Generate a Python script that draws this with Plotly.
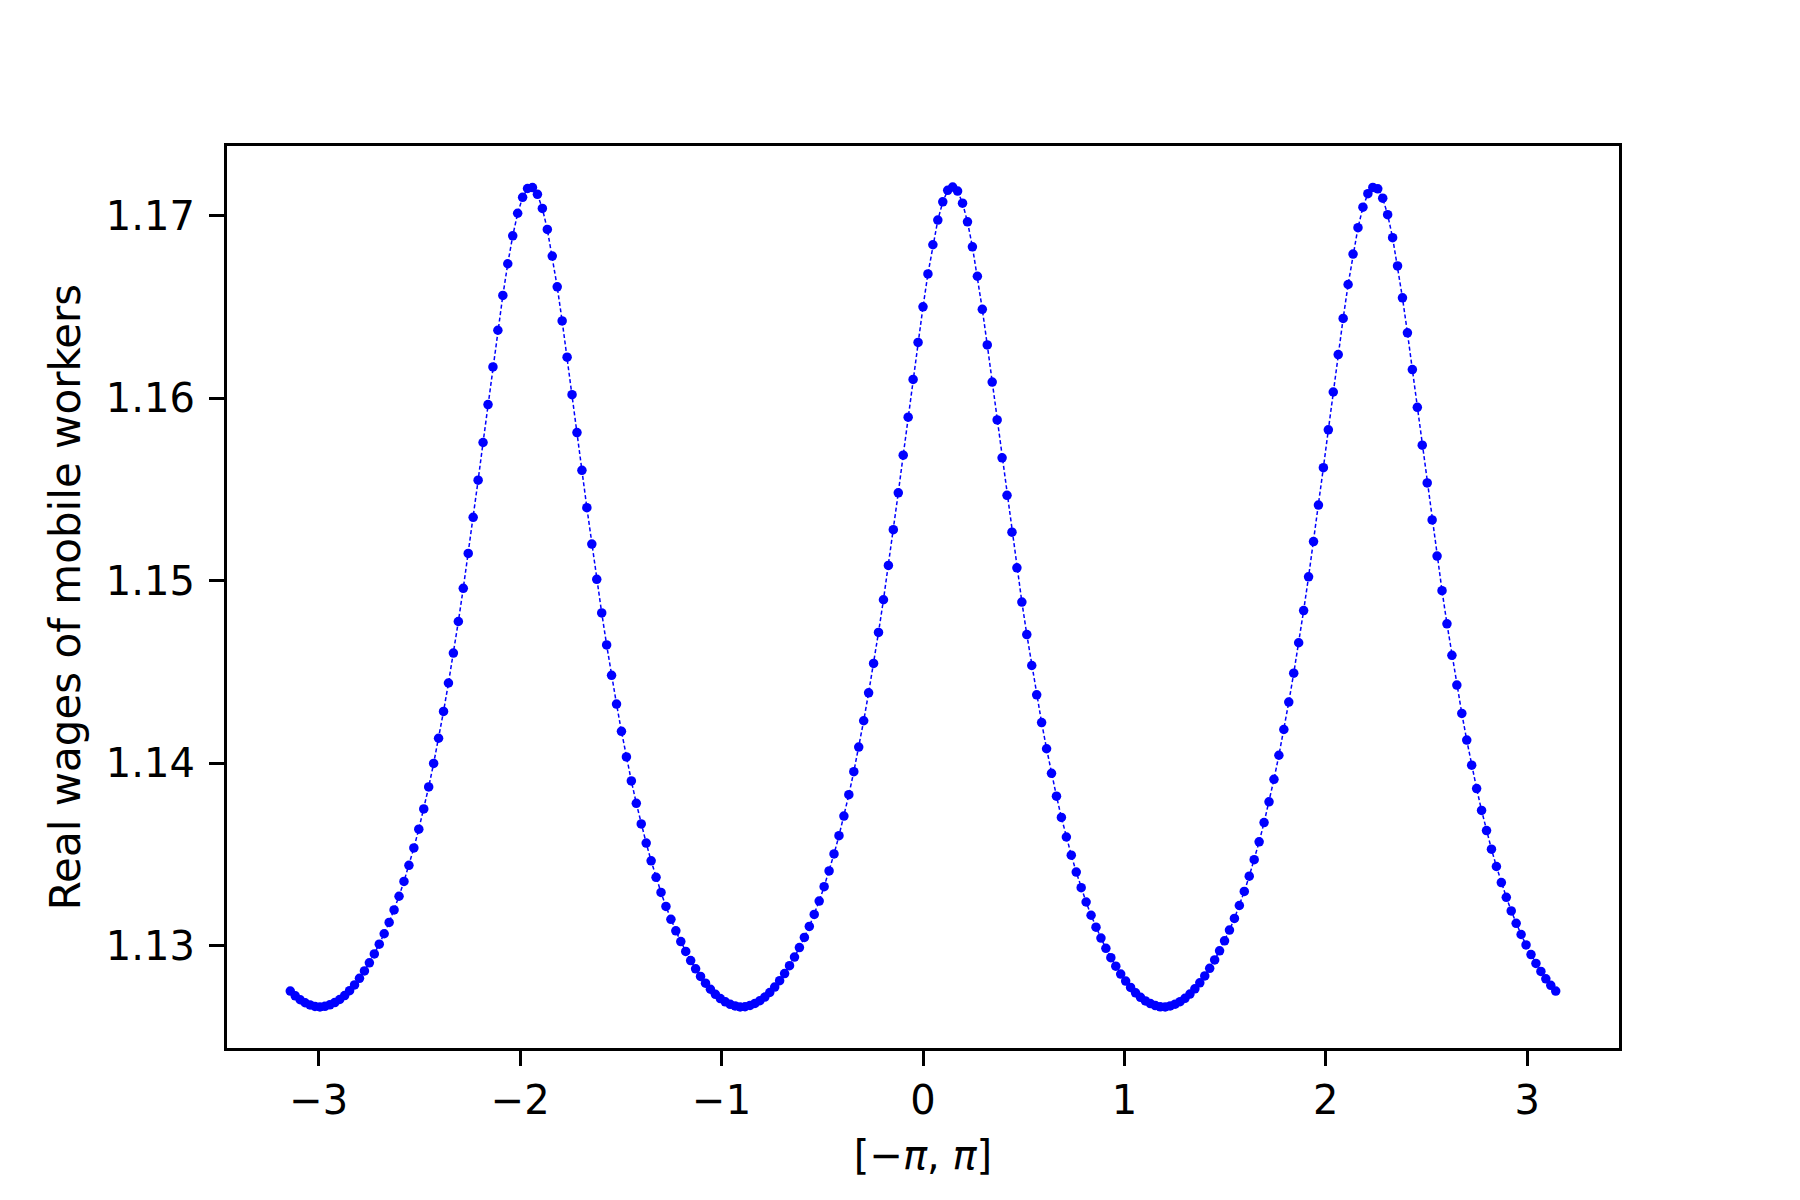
import plotly.graph_objects as go

# Sample positions on [-pi, pi] (257 evenly spaced points)
x_half_neg = [
    -3.1416, -3.1170, -3.0925, -3.0680, -3.0434, -3.0189, -2.9943, -2.9698, -2.9452, -2.9207,
    -2.8962, -2.8716, -2.8471, -2.8225, -2.7980, -2.7734, -2.7489, -2.7243, -2.6998, -2.6753,
    -2.6507, -2.6262, -2.6016, -2.5771, -2.5525, -2.5280, -2.5035, -2.4789, -2.4544, -2.4298,
    -2.4053, -2.3807, -2.3562, -2.3317, -2.3071, -2.2826, -2.2580, -2.2335, -2.2089, -2.1844,
    -2.1598, -2.1353, -2.1108, -2.0862, -2.0617, -2.0371, -2.0126, -1.9880, -1.9635, -1.9390,
    -1.9144, -1.8899, -1.8653, -1.8408, -1.8162, -1.7917, -1.7671, -1.7426, -1.7181, -1.6935,
    -1.6690, -1.6444, -1.6199, -1.5953, -1.5708, -1.5463, -1.5217, -1.4972, -1.4726, -1.4481,
    -1.4235, -1.3990, -1.3744, -1.3499, -1.3254, -1.3008, -1.2763, -1.2517, -1.2272, -1.2026,
    -1.1781, -1.1536, -1.1290, -1.1045, -1.0799, -1.0554, -1.0308, -1.0063, -0.9817, -0.9572,
    -0.9327, -0.9081, -0.8836, -0.8590, -0.8345, -0.8099, -0.7854, -0.7609, -0.7363, -0.7118,
    -0.6872, -0.6627, -0.6381, -0.6136, -0.5890, -0.5645, -0.5400, -0.5154, -0.4909, -0.4663,
    -0.4418, -0.4172, -0.3927, -0.3682, -0.3436, -0.3191, -0.2945, -0.2700, -0.2454, -0.2209,
    -0.1963, -0.1718, -0.1473, -0.1227, -0.0982, -0.0736, -0.0491, -0.0245,
]
x_mid = [0.0]
x_half_pos = [
    0.0245, 0.0491, 0.0736, 0.0982, 0.1227, 0.1473, 0.1718, 0.1963, 0.2209, 0.2454,
    0.2700, 0.2945, 0.3191, 0.3436, 0.3682, 0.3927, 0.4172, 0.4418, 0.4663, 0.4909,
    0.5154, 0.5400, 0.5645, 0.5890, 0.6136, 0.6381, 0.6627, 0.6872, 0.7118, 0.7363,
    0.7609, 0.7854, 0.8099, 0.8345, 0.8590, 0.8836, 0.9081, 0.9327, 0.9572, 0.9817,
    1.0063, 1.0308, 1.0554, 1.0799, 1.1045, 1.1290, 1.1536, 1.1781, 1.2026, 1.2272,
    1.2517, 1.2763, 1.3008, 1.3254, 1.3499, 1.3744, 1.3990, 1.4235, 1.4481, 1.4726,
    1.4972, 1.5217, 1.5463, 1.5708, 1.5953, 1.6199, 1.6444, 1.6690, 1.6935, 1.7181,
    1.7426, 1.7671, 1.7917, 1.8162, 1.8408, 1.8653, 1.8899, 1.9144, 1.9390, 1.9635,
    1.9880, 2.0126, 2.0371, 2.0617, 2.0862, 2.1108, 2.1353, 2.1598, 2.1844, 2.2089,
    2.2335, 2.2580, 2.2826, 2.3071, 2.3317, 2.3562, 2.3807, 2.4053, 2.4298, 2.4544,
    2.4789, 2.5035, 2.5280, 2.5525, 2.5771, 2.6016, 2.6262, 2.6507, 2.6753, 2.6998,
    2.7243, 2.7489, 2.7734, 2.7980, 2.8225, 2.8471, 2.8716, 2.8962, 2.9207, 2.9452,
    2.9698, 2.9943, 3.0189, 3.0434, 3.0680, 3.0925, 3.1170, 3.1416,
]
x_values = x_half_neg + x_mid + x_half_pos

# Real wages of mobile workers
wages = [
    1.127509, 1.127246, 1.127033, 1.126869, 1.126749, 1.126668,
    1.126636, 1.126673, 1.126757, 1.126880, 1.127047, 1.127263, 1.127530, 1.127847, 1.128210, 1.128614,
    1.129057, 1.129544, 1.130077, 1.130650, 1.131270, 1.131954, 1.132704, 1.133517, 1.134401, 1.135354,
    1.136381, 1.137491, 1.138691, 1.139981, 1.141361, 1.142831, 1.144388, 1.146028, 1.147758, 1.149578,
    1.151485, 1.153465, 1.155498, 1.157565, 1.159641, 1.161705, 1.163715, 1.165621, 1.167359, 1.168886,
    1.170125, 1.171000, 1.171481,
    1.171533, 1.171160, 1.170387, 1.169240, 1.167779, 1.166093, 1.164226, 1.162237, 1.160184, 1.158110,
    1.156038, 1.153994, 1.151998, 1.150070, 1.148227, 1.146473, 1.144810, 1.143232, 1.141738, 1.140335,
    1.139021, 1.137797, 1.136664, 1.135616, 1.134644, 1.133743, 1.132911, 1.132145, 1.131443, 1.130808,
    1.130224, 1.129680, 1.129180, 1.128726, 1.128312, 1.127939, 1.127609, 1.127329, 1.127099, 1.126919,
    1.126786, 1.126692, 1.126638,
    1.126650, 1.126720, 1.126830, 1.126980, 1.127180, 1.127430, 1.127730, 1.128080, 1.128470, 1.128900,
    1.129370, 1.129890, 1.130450, 1.131050, 1.131710, 1.132440, 1.133230, 1.134090, 1.135020, 1.136020,
    1.137100, 1.138270, 1.139530, 1.140880, 1.142320, 1.143850, 1.145460, 1.147160, 1.148950, 1.150830,
    1.152790, 1.154810, 1.156870, 1.158950, 1.161020, 1.163050, 1.165000, 1.166800, 1.168400, 1.169750,
    1.170750, 1.171380,
    1.171560,
    1.171342, 1.170680, 1.169656, 1.168288, 1.166674, 1.164863, 1.162908, 1.160875, 1.158804, 1.156726,
    1.154669, 1.152653, 1.150698, 1.148825, 1.147041, 1.145347, 1.143743, 1.142219, 1.140785, 1.139442,
    1.138188, 1.137024, 1.135950, 1.134955, 1.134030, 1.133175, 1.132389, 1.131664, 1.131008, 1.130411,
    1.129854, 1.129337, 1.128870, 1.128443, 1.128055, 1.127709, 1.127412, 1.127166, 1.126969, 1.126822,
    1.126715, 1.126647,
    1.126640, 1.126697, 1.126793, 1.126930, 1.127113, 1.127347, 1.127630, 1.127963, 1.128340, 1.128757,
    1.129213, 1.129717, 1.130264, 1.130850, 1.131490, 1.132197, 1.132967, 1.133804, 1.134710, 1.135687,
    1.136740, 1.137880, 1.139110, 1.140430, 1.141840, 1.143341, 1.144924, 1.146594, 1.148354, 1.150204,
    1.152137, 1.154137, 1.156184, 1.158257, 1.160331, 1.162381, 1.164364, 1.166221, 1.167890, 1.169333,
    1.170457, 1.171200, 1.171542,
    1.171462, 1.170950, 1.170048, 1.168785, 1.167241, 1.165490, 1.163575, 1.161560, 1.159494, 1.157417,
    1.155352, 1.153321, 1.151345, 1.149444, 1.147631, 1.145907, 1.144273, 1.142722, 1.141259, 1.139885,
    1.138601, 1.137408, 1.136304, 1.135283, 1.134335, 1.133456, 1.132648, 1.131902, 1.131224, 1.130608,
    1.130037, 1.129507, 1.129024, 1.128583, 1.128183, 1.127822, 1.127509,
]

x_tick_vals = [-3, -2, -1, 0, 1, 2, 3]
x_tick_text = ["\u22123", "\u22122", "\u22121", "0", "1", "2", "3"]
y_tick_vals = [1.13, 1.14, 1.15, 1.16, 1.17]
y_tick_text = ["1.13", "1.14", "1.15", "1.16", "1.17"]

x_title = "[\u2212<i>\u03c0</i>, <i>\u03c0</i>]"
y_title = "Real wages of mobile workers"

FONT = "DejaVu Sans"
FS = 40

fig = go.Figure()
fig.add_trace(go.Scatter(
    x=x_values, y=wages, mode="lines+markers",
    line=dict(color="#0000ff", width=1.5, dash="4px,2.5px"),
    marker=dict(color="#0000ff", size=9.5, line=dict(width=0)),
    showlegend=False, hoverinfo="skip",
))

axis_common = dict(
    showline=True, linecolor="black", linewidth=3.3, mirror=True,
    ticks="outside", ticklen=15, tickwidth=3.3, tickcolor="black",
    showgrid=False, zeroline=False,
    tickfont=dict(family=FONT, size=FS, color="black"),
)

fig.update_layout(
    width=1800, height=1200,
    margin=dict(l=219, r=189, t=138, b=160),
    paper_bgcolor="white", plot_bgcolor="white",
    font=dict(family=FONT, size=FS, color="black"),
    xaxis=dict(
        range=[-3.4558, 3.4558], tickvals=x_tick_vals, ticktext=x_tick_text,
        title=dict(text=x_title, font=dict(family=FONT, size=FS), standoff=19),
        ticklabelstandoff=0,
        **axis_common,
    ),
    yaxis=dict(
        range=[1.12439, 1.17381], tickvals=y_tick_vals, ticktext=y_tick_text,
        title=dict(text=y_title, font=dict(family=FONT, size=42), standoff=13),
        ticklabelstandoff=6,
        **axis_common,
    ),
)

fig.write_html("out.html")
